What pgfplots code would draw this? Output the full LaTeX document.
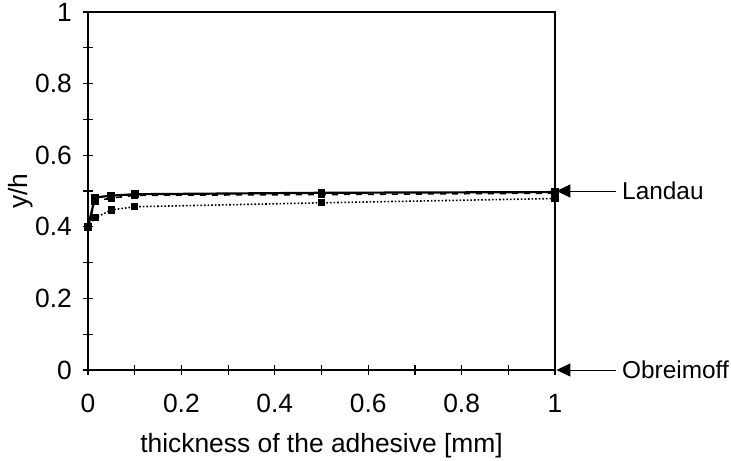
\documentclass[border=0pt]{standalone}
\usepackage{fontspec}
\setmainfont{Liberation Sans}
\usepackage{pgfplots}
\pgfplotsset{compat=1.18}
\usetikzlibrary{arrows.meta}
\begin{document}
\fontsize{13.2}{15}\selectfont
\begin{tikzpicture}
\useasboundingbox (-44pt,-45pt) rectangle (321.5pt,185pt);
\begin{axis}[
    scale only axis,
    width=233.5pt, height=179pt,
    xmin=0, xmax=1, ymin=0, ymax=1,
    xtick={0,0.2,0.4,0.6,0.8,1},
    ytick={0,0.2,0.4,0.6,0.8,1},
    minor x tick num=1, minor y tick num=1,
    xtick pos=bottom, ytick pos=left,
    tick align=center,
    major tick length=5pt, minor tick length=5pt,
    tick style={black, line width=0.6pt},
    axis line style={line width=0.7pt},
    /pgf/number format/assume math mode=true,
    ticklabel style={font=\fontsize{13.2}{15}\selectfont},
    xticklabel style={yshift=-5pt},
    yticklabel style={xshift=-1pt},
    xlabel={thickness of the adhesive [mm]},
    ylabel={y/h},
    xlabel style={yshift=-1pt},
    ylabel style={yshift=-8pt},
    label style={font=\fontsize{13.2}{15}\selectfont},
    clip=false,
    mark size=1.4pt,
  ]
% solid series
\addplot[black, line width=1.1pt, mark=square*, mark options={solid}] coordinates {
  (0,0.400) (0.015,0.482) (0.05,0.487) (0.1,0.491) (0.5,0.495) (1,0.497)};
% dashed series
\addplot[black, line width=0.8pt, dashed, mark=square*, mark options={solid}] coordinates {
  (0,0.400) (0.015,0.472) (0.05,0.480) (0.1,0.488) (0.5,0.490) (1,0.494)};
% dotted series
\addplot[black, line width=0.8pt, densely dotted, mark=square*, mark options={solid}] coordinates {
  (0,0.400) (0.015,0.425) (0.05,0.447) (0.1,0.456) (0.5,0.467) (1,0.479)};
% limit arrows
\draw[line width=0.5pt, -{Triangle[length=7pt,width=6.5pt]}] (axis cs:1.13,0.5) -- (axis cs:1.003,0.5);
\draw[line width=0.5pt, -{Triangle[length=7pt,width=6.5pt]}] (axis cs:1.13,0) -- (axis cs:1.003,0);
\node[anchor=west, inner sep=0pt, font=\fontsize{12.2}{14}\selectfont] at (axis cs:1.143,0.5) {Landau};
\node[anchor=west, inner sep=0pt, font=\fontsize{12.2}{14}\selectfont] at (axis cs:1.143,0) {Obreimoff};
\end{axis}
\end{tikzpicture}
\end{document}
